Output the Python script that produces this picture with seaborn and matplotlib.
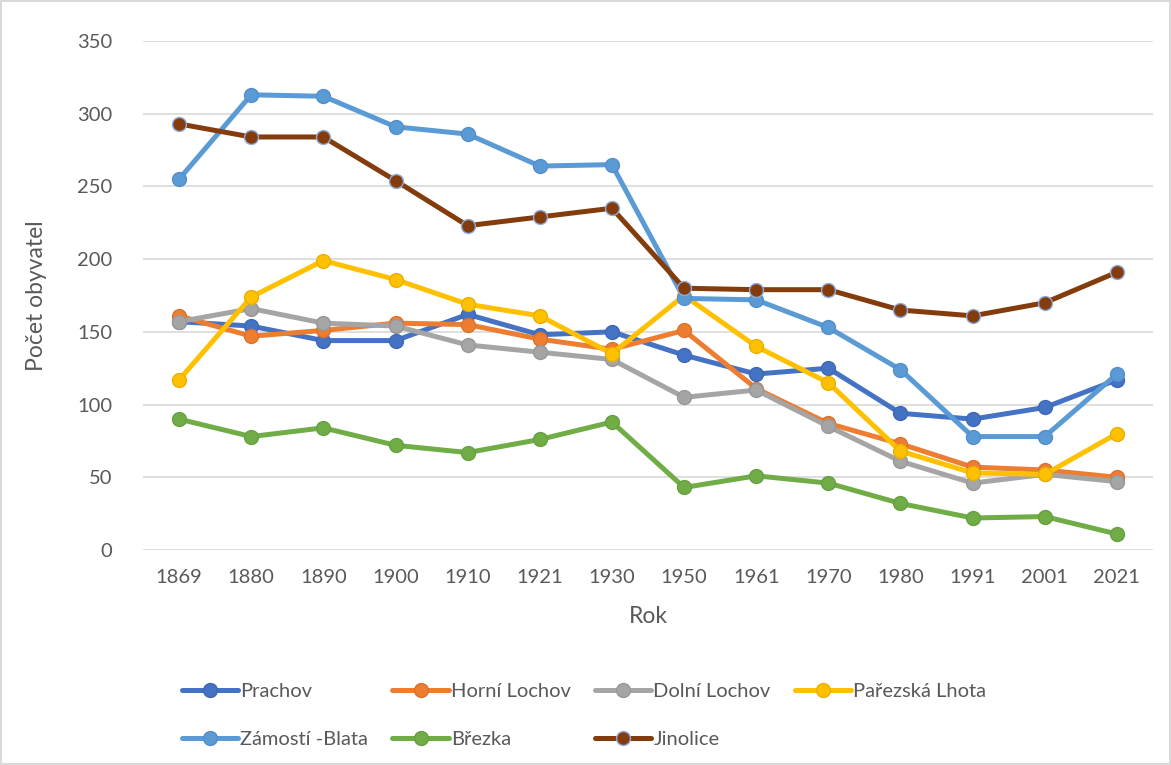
import matplotlib.pyplot as plt
import seaborn as sns
import pandas as pd

sns.set_style("white")
plt.rcParams['font.family'] = ['Lato', 'DejaVu Sans']

years = ["1869", "1880", "1890", "1900", "1910", "1921", "1930",
         "1950", "1961", "1970", "1980", "1991", "2001", "2021"]

prachov = [157, 154, 144, 144, 162, 148, 150, 134, 121, 125, 94, 90, 98, 117]
horni_lochov = [161, 147, 151, 156, 155, 145, 138, 151, 111, 87, 73, 57, 55, 50]
dolni_lochov = [157, 166, 156, 154, 141, 136, 131, 105, 110, 85, 61, 46, 52, 47]
parezska_lhota = [117, 174, 199, 186, 169, 161, 135, 175, 140, 115, 68, 53, 52, 80]
zamosti_blata = [255, 313, 312, 291, 286, 264, 265, 173, 172, 153, 124, 78, 78, 121]
brezka = [90, 78, 84, 72, 67, 76, 88, 43, 51, 46, 32, 22, 23, 11]
jinolice = [293, 284, 284, 254, 223, 229, 235, 180, 179, 179, 165, 161, 170, 191]

series = {
    "Prachov": prachov,
    "Horní Lochov": horni_lochov,
    "Dolní Lochov": dolni_lochov,
    "Pařezská Lhota": parezska_lhota,
    "Zámostí -Blata": zamosti_blata,
    "Březka": brezka,
    "Jinolice": jinolice,
}
colors = {
    "Prachov": "#4472C4",
    "Horní Lochov": "#ED7D31",
    "Dolní Lochov": "#A5A5A5",
    "Pařezská Lhota": "#FFC000",
    "Zámostí -Blata": "#5B9BD5",
    "Březka": "#70AD47",
    "Jinolice": "#843C0C",
}
edges = {
    "Prachov": "#3F68B5",
    "Horní Lochov": "#DA732D",
    "Dolní Lochov": "#989898",
    "Pařezská Lhota": "#EAB000",
    "Zámostí -Blata": "#548ECC",
    "Březka": "#679F41",
    "Jinolice": "#8FAADC",
}

df = pd.DataFrame(
    [(y, v, name) for name, vals in series.items() for y, v in zip(years, vals)],
    columns=["Rok", "Počet", "Obec"],
)

fig = plt.figure(figsize=(11.71, 7.65), dpi=100)
fig.patch.set_edgecolor("#D9D9D9")
fig.patch.set_linewidth(1.5)
ax = fig.add_axes([143 / 1171, 1 - 550 / 765, (1153 - 143) / 1171, (550 - 41) / 765])

handles = {}
for name in series:
    sub = df[df["Obec"] == name]
    sns.lineplot(data=sub, x="Rok", y="Počet", ax=ax, color=colors[name],
                 marker="o", markersize=10, markeredgecolor=edges[name],
                 markeredgewidth=1.0, linewidth=3.6, sort=False, label=name)
    handles[name] = ax.lines[-1]

ax.set_xlim(-0.5, len(years) - 0.5)
ax.set_ylim(0, 350)
ax.set_yticks(range(0, 351, 50))
ax.grid(axis="y", color="#D9D9D9", linewidth=1.2)
ax.grid(axis="x", visible=False)
ax.set_axisbelow(True)
for s in ax.spines.values():
    s.set_visible(False)
ax.tick_params(axis="both", length=0, labelsize=14.5, colors="#595959")
ax.tick_params(axis="y", pad=22)
ax.tick_params(axis="x", pad=14)
ax.set_xlabel("Rok", fontsize=16.5, color="#595959", labelpad=14)
ax.set_ylabel("Počet obyvatel", fontsize=16.5, color="#595959", labelpad=22)

order = ["Prachov", "Zámostí -Blata", "Horní Lochov", "Březka",
         "Dolní Lochov", "Jinolice", "Pařezská Lhota"]
ax.legend([handles[n] for n in order], order, ncol=4, frameon=False,
          loc="upper left", bbox_to_anchor=(182 / 1171, 1 - 683 / 765),
          bbox_transform=fig.transFigure, fontsize=14.5, handlelength=2.8,
          handletextpad=0.1, columnspacing=1.2, labelspacing=1.55,
          borderpad=0, borderaxespad=0, labelcolor="#595959")

fig.savefig("out.png", dpi=100, edgecolor=fig.get_edgecolor())
